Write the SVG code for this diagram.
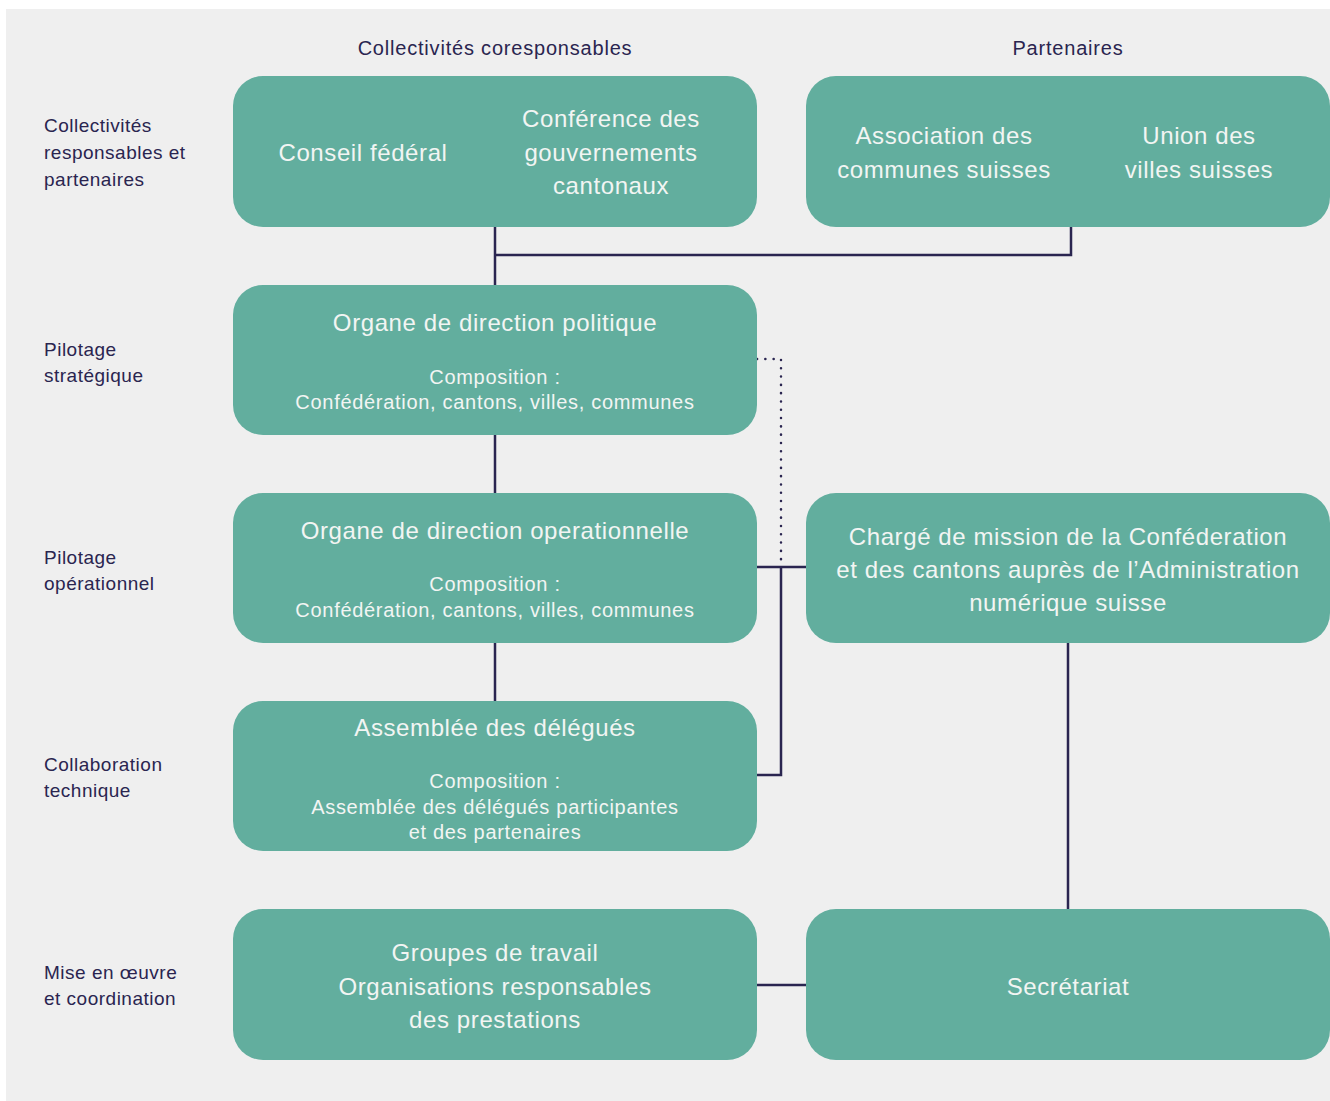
<svg xmlns="http://www.w3.org/2000/svg" width="1330" height="1101" viewBox="0 0 1330 1101">
<style>
.box{fill:#62ae9e}
.bt{font-family:"Liberation Sans",Arial,sans-serif;font-size:24px;letter-spacing:0.6px;fill:#f2f5f3;text-anchor:middle}
.bs{font-family:"Liberation Sans",Arial,sans-serif;font-size:20px;letter-spacing:0.7px;fill:#f2f5f3;text-anchor:middle}
.lb{font-family:"Liberation Sans",Arial,sans-serif;font-size:19px;letter-spacing:0.5px;fill:#2a2550}
.hd{font-family:"Liberation Sans",Arial,sans-serif;font-size:20px;letter-spacing:0.8px;fill:#2a2550;text-anchor:middle}
.ln{fill:none;stroke:#2a2550;stroke-width:2.5}
.dt{fill:none;stroke:#2a2550;stroke-width:2.5;stroke-dasharray:0.1 8.2;stroke-linecap:round}
</style>
<rect x="6" y="9" width="1324" height="1092" fill="#efefef"/>
<g id="headers">
<text class="hd" x="495" y="55">Collectivités coresponsables</text>
<text class="hd" x="1068" y="55">Partenaires</text>
</g>
<g id="row-labels">
<text class="lb" x="44" y="132">Collectivités</text>
<text class="lb" x="44" y="159">responsables et</text>
<text class="lb" x="44" y="186">partenaires</text>
<text class="lb" x="44" y="356">Pilotage</text>
<text class="lb" x="44" y="382">stratégique</text>
<text class="lb" x="44" y="564">Pilotage</text>
<text class="lb" x="44" y="590">opérationnel</text>
<text class="lb" x="44" y="771">Collaboration</text>
<text class="lb" x="44" y="797">technique</text>
<text class="lb" x="44" y="979">Mise en œuvre</text>
<text class="lb" x="44" y="1005">et coordination</text>
</g>
<g id="connectors">
<path class="ln" d="M495 227V285M495 255H1071V227"/>
<path class="ln" d="M495 435V493M495 643V701"/>
<path class="dt" d="M757 359H781V567"/>
<path class="ln" d="M757 567H806M781 567V775H757"/>
<path class="ln" d="M1068 643V909"/>
<path class="ln" d="M757 985H806"/>
</g>
<g id="collectivites">
<rect class="box" x="233" y="76" width="524" height="151" rx="30"/>
<text class="bt" x="363" y="161">Conseil fédéral</text>
<text class="bt" x="611" y="127">Conférence des</text>
<text class="bt" x="611" y="161">gouvernements</text>
<text class="bt" x="611" y="194">cantonaux</text>
</g>
<g id="partenaires">
<rect class="box" x="806" y="76" width="524" height="151" rx="30"/>
<text class="bt" x="944" y="144">Association des</text>
<text class="bt" x="944" y="178">communes suisses</text>
<text class="bt" x="1199" y="144">Union des</text>
<text class="bt" x="1199" y="178">villes suisses</text>
</g>
<g id="politique">
<rect class="box" x="233" y="285" width="524" height="150" rx="30"/>
<text class="bt" x="495" y="331">Organe de direction politique</text>
<text class="bs" x="495" y="384">Composition :</text>
<text class="bs" x="495" y="409">Confédération, cantons, villes, communes</text>
</g>
<g id="operationnelle">
<rect class="box" x="233" y="493" width="524" height="150" rx="30"/>
<text class="bt" x="495" y="539">Organe de direction operationnelle</text>
<text class="bs" x="495" y="591">Composition :</text>
<text class="bs" x="495" y="617">Confédération, cantons, villes, communes</text>
</g>
<g id="charge">
<rect class="box" x="806" y="493" width="524" height="150" rx="30"/>
<text class="bt" x="1068" y="545">Chargé de mission de la Conféderation</text>
<text class="bt" x="1068" y="578">et des cantons auprès de l’Administration</text>
<text class="bt" x="1068" y="611">numérique suisse</text>
</g>
<g id="assemblee">
<rect class="box" x="233" y="701" width="524" height="150" rx="30"/>
<text class="bt" x="495" y="736">Assemblée des délégués</text>
<text class="bs" x="495" y="788">Composition :</text>
<text class="bs" x="495" y="814">Assemblée des délégués participantes</text>
<text class="bs" x="495" y="839">et des partenaires</text>
</g>
<g id="groupes">
<rect class="box" x="233" y="909" width="524" height="151" rx="30"/>
<text class="bt" x="495" y="961">Groupes de travail</text>
<text class="bt" x="495" y="995">Organisations responsables</text>
<text class="bt" x="495" y="1028">des prestations</text>
</g>
<g id="secretariat">
<rect class="box" x="806" y="909" width="524" height="151" rx="30"/>
<text class="bt" x="1068" y="995">Secrétariat</text>
</g>
</svg>
